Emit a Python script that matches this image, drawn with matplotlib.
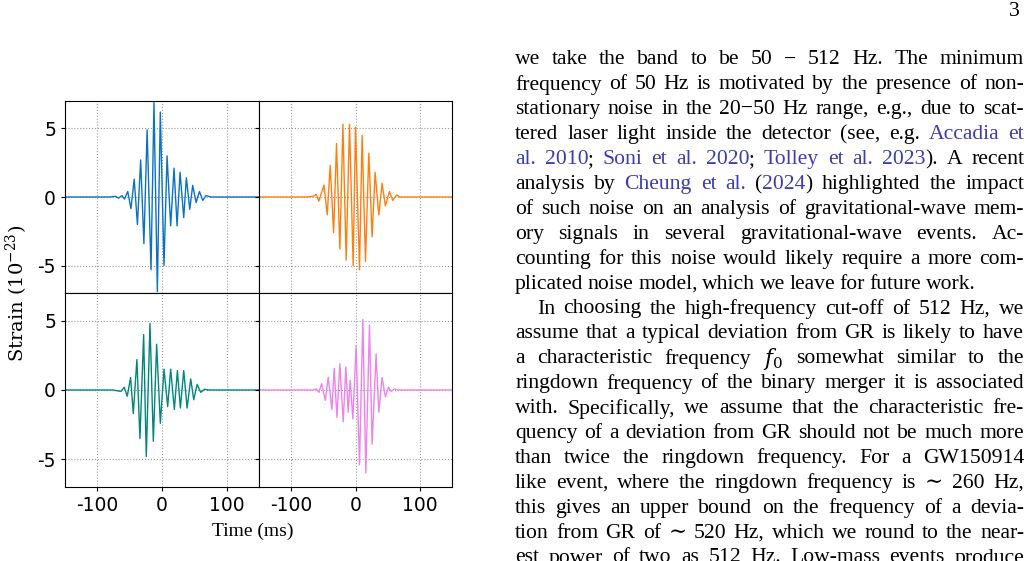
import matplotlib
matplotlib.use("Agg")
from matplotlib import pyplot as plt

plt.rcParams['font.family'] = ['DejaVu Sans']
plt.rcParams['mathtext.fontset'] = 'dejavuserif'

# extrema (time in ms, strain in 1e-23)
blue_t = [-150, -80, -72, -67, -62, -58, -53, -48, -43, -38, -33, -28, -23, -17, -12.4, -7.2, -2.6, 3.1, 7.8,
          13.4, 18.6, 23.3, 27.9, 33.6, 37.7, 42.9, 47.5, 52.7, 57.9, 63, 68, 76, 150]
blue_v = [0, 0, 0.05, -0.08, 0.1, -0.15, 0.4, -0.85, 1.3, -2.0, 2.7, -3.4, 4.9, -5.3, 6.9, -6.9, 6.2, -5.0, 3.0,
          -2.1, 2.1, -2.1, 1.8, -1.5, 1.4, -0.9, 0.85, -0.4, 0.4, -0.25, 0.1, 0, 0]
orange_t = [-150, -76.5, -66, -61, -57, -49, -44, -39.3, -34, -29.5, -24.3, -19.6, -14.5, -9.3, -3.6, 0, 6.2,
            10.3, 15.5, 20.7, 25.8, 30.5, 36.2, 41.3, 46.5, 52.7, 57.9, 64, 69, 150]
orange_v = [0, 0, 0.05, 0.2, -0.3, 0.87, -1.3, 2.3, -2.6, 3.9, -3.8, 5.3, -4.6, 5.3, -5.0, 5.1, -5.3,
            4.5, -4.7, 3.2, -2.9, 1.8, -1.3, 1.0, -0.65, 0.4, -0.25, 0.15, 0, 0]
green_t = [-150, -76.5, -63.6, -58.4, -53.7, -48.6, -44.4, -38.8, -34.1, -28.4, -24.3, -18.6, -13.4, -8.3, -2.6,
           3.1, 8.8, 13.4, 19.1, 23.8, 28.4, 33.6, 38.8, 44.4, 49.1, 54.3, 59.9, 65.6, 73.4, 150]
green_v = [0, 0, -0.1, 0.2, -0.45, 0.9, -1.7, 2.2, -3.5, 4.0, -4.8, 4.8, -3.7, 3.3, -2.4,
           1.5, -1.2, 1.5, -1.4, 1.4, -1.3, 1.4, -1.3, 0.8, -0.7, 0.4, -0.17, 0.05, 0, 0]
pink_t = [-150, -66, -61, -56.8, -52.7, -47, -42.4, -36.7, -33.1, -28.9, -24.3, -19.1, -15, -11.4, -8.3, -4.1,
          1, 6.2, 11.4, 16, 21.7, 25.8, 32, 36.2, 41.3, 46.5, 51.2, 55.3, 60.5, 65.6, 150]
pink_v = [0, 0, 0.07, -0.17, 0.46, -0.75, 0.92, -1.4, 1.56, -1.97, 1.9, -2.29, 1.66, -1.6, 0.7, -2.1,
          3.2, -5.4, 5.1, -6.0, 4.7, -3.9, 2.6, -1.6, 0.9, -0.5, 0.2, -0.1, 0.07, 0, 0]

series = [(blue_t, blue_v, '#0a72c4'), (orange_t, orange_v, '#ff7f0e'),
          (green_t, green_v, '#00877a'), (pink_t, pink_v, '#ee82ee')]

x_ticks = [-100, 0, 100]
y_ticks = [-5, 0, 5]

W, H = 1031, 561
fig = plt.figure(figsize=(W / 100, H / 100), dpi=100)

left, right, top, bottom = 65, 452, 101, 487
mx, my = 259, 293
boxes = [(left, my, mx, top), (mx, my, right, top), (left, bottom, mx, my), (mx, bottom, right, my)]
for i, (x0, y0, x1, y1) in enumerate(boxes):
    ax = fig.add_axes([x0 / W, 1 - y0 / H, (x1 - x0) / W, (y0 - y1) / H])
    t, v, c = series[i]
    ax.plot(t, v, color=c, linewidth=1)
    ax.set_xlim(-150, 150)
    ax.set_ylim(-7, 7)
    ax.set_xticks(x_ticks)
    ax.set_yticks(y_ticks)
    ax.grid(True, linestyle=':', color='#999999', linewidth=0.8)
    ax.tick_params(labelsize=13.5, length=3)
    if i % 2 == 0:
        ax.set_yticklabels([str(y) for y in y_ticks])
    else:
        ax.set_yticklabels([])
    if i >= 2:
        ax.set_xticklabels([str(x) for x in x_ticks])
    else:
        ax.set_xticklabels([])
        ax.tick_params(axis='x', length=0)

fig.text(17 / W, 1 - 293 / H, 'Strain ($10^{-23}$)', rotation=90, ha='center', va='center',
         fontsize=14, family='DejaVu Serif')
fig.text(253 / W, 1 - 531 / H, 'Time (ms)', ha='center', va='center', fontsize=14, family='Liberation Serif')

# page text on the right
LINK = '#3b3bb3'
lines = [
    [("we take the band to be 50 − 512 Hz.  The minimum", 'k')],
    [("frequency of 50 Hz is motivated by the presence of non-", 'k')],
    [("stationary noise in the 20−50 Hz range, e.g., due to scat-", 'k')],
    [("tered laser light inside the detector (see, e.g.", 'k'), ("Accadia et", LINK)],
    [("al. 2010", LINK), (";", 'k'), ("Soni et al. 2020", LINK), (";", 'k'), ("Tolley et al. 2023", LINK),
     (").  A recent", 'k')],
    [("analysis by", 'k'), ("Cheung et al.", LINK), ("(", 'k'), ("2024", LINK), (") highlighted the impact", 'k')],
    [("of such noise on an analysis of gravitational-wave mem-", 'k')],
    [("ory signals in several gravitational-wave events.  Ac-", 'k')],
    [("counting for this noise would likely require a more com-", 'k')],
    [("plicated noise model, which we leave for future work.", 'k')],
    [("In choosing the high-frequency cut-off of 512 Hz, we", 'k')],
    [("assume that a typical deviation from GR is likely to have", 'k')],
    [("a characteristic frequency $f_0$ somewhat similar to the", 'k')],
    [("ringdown frequency of the binary merger it is associated", 'k')],
    [("with. Specifically, we assume that the characteristic fre-", 'k')],
    [("quency of a deviation from GR should not be much more", 'k')],
    [("than twice the ringdown frequency.  For a GW150914", 'k')],
    [("like event, where the ringdown frequency is ∼ 260 Hz,", 'k')],
    [("this gives an upper bound on the frequency of a devia-", 'k')],
    [("tion from GR of ∼ 520 Hz, which we round to the near-", 'k')],
    [("est power of two as 512 Hz.  Low-mass events produce", 'k')],
]
justify = [True] * 9 + [False] + [True] * 11
FS = 15.6

renderer = fig.canvas.get_renderer()
tx0, tx1, ty0, dy = 515, 1024, 60, 24.9
for k, segs in enumerate(lines):
    x_start = tx0 + (22 if k == 10 else 0)
    y = 1 - (ty0 + k * dy) / H
    words = []
    for j, (s, c) in enumerate(segs):
        parts = s.split()
        for n, p in enumerate(parts):
            attach = False
            if n == 0 and j > 0:
                # no space after "(" and before ";" or ")"
                attach = segs[j - 1][0] == "(" or s == ";" or s.startswith(")")
            words.append([p, c, attach])
    arts = []
    for p, c, a in words:
        t = fig.text(0, y, p, color=c, fontsize=FS, family=['Liberation Serif', 'DejaVu Serif'], va='center')
        arts.append(t)
    widths = [a.get_window_extent(renderer).width for a in arts]
    ngaps = sum(1 for w in words[1:] if not w[2])
    space = 4.5
    if justify[k] and ngaps:
        space = max(3.0, (tx1 - x_start - sum(widths)) / ngaps)
    x = x_start
    for i, (a, wd) in enumerate(zip(arts, widths)):
        if i > 0 and not words[i][2]:
            x += space
        a.set_x(x / W)
        x += wd

fig.text(1020 / W, 1 - 12 / H, '3', fontsize=FS, family='Liberation Serif', ha='right', va='center')

plt.savefig('out.png', dpi=100)
